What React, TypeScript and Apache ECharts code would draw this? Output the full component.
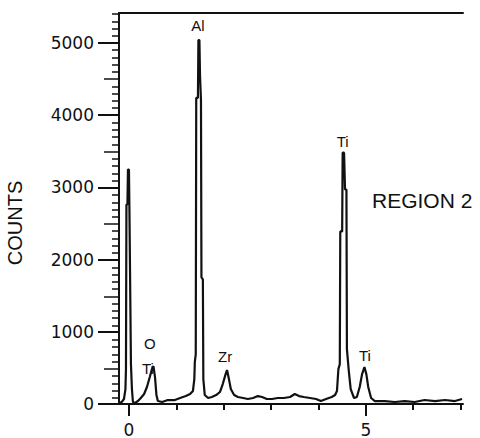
import React, { useEffect, useRef } from "react";
import * as echarts from "echarts";

// Energy (keV) and counts
const energy = [
  -0.21, -0.15, -0.105, -0.074, -0.063, -0.053, -0.032, -0.021, 0.0, 0.01, 0.042, 0.063, 0.084, 0.127,
  0.19, 0.25, 0.32, 0.38, 0.44, 0.485, 0.517, 0.55, 0.58, 0.61, 0.7, 0.82, 0.97, 1.08, 1.2, 1.29,
  1.35, 1.38, 1.39, 1.41, 1.42, 1.456, 1.466, 1.487, 1.5, 1.52, 1.53, 1.56, 1.57, 1.6, 1.67, 1.75,
  1.84, 1.92, 1.98, 2.04, 2.07, 2.11, 2.15, 2.22, 2.3, 2.41, 2.51, 2.62, 2.72, 2.81, 2.91, 3.02,
  3.14, 3.27, 3.4, 3.5, 3.59, 3.69, 3.82, 3.95, 4.05, 4.16, 4.28, 4.35, 4.39, 4.42, 4.45, 4.46,
  4.5, 4.51, 4.54, 4.56, 4.59, 4.6, 4.64, 4.68, 4.75, 4.81, 4.87, 4.92, 4.97, 5.01, 5.05, 5.11,
  5.19, 5.4, 5.61, 5.82, 6.03, 6.24, 6.46, 6.67, 6.88, 7.03,
];
const counts = [
  14, 28, 69, 207, 483, 2762, 2762, 3246, 3246, 2693, 552, 207, 28, 14,
  41, 83, 138, 235, 373, 483, 525, 373, 124, 41, 28, 55, 55, 83, 110, 138,
  180, 345, 580, 690, 4240, 4240, 5040, 5040, 4545, 4210, 1754, 1726, 345, 124, 83, 97,
  124, 166, 276, 414, 470, 345, 207, 124, 97, 83, 69, 83, 110, 97, 69, 69,
  83, 83, 97, 138, 110, 97, 83, 69, 41, 69, 97, 124, 180, 483, 552, 2390,
  2390, 3480, 3480, 2970, 2970, 760, 456, 207, 83, 97, 235, 414, 511, 414, 235, 83,
  41, 41, 28, 41, 28, 55, 41, 55, 41, 69,
];

// Peak labels: name, energy, counts (label bottom)
const peakNames = ["Al", "Ti", "O", "Ti", "Zr", "Ti"];
const peakEnergy = [1.456, 4.51, 0.443, 0.4, 2.03, 4.98];
const peakCounts = [5130, 3525, 725, 380, 545, 560];

const yMajorTicks = [0, 1000, 2000, 3000, 4000, 5000];
const yMidTicks = [500, 1500, 2500, 3500, 4500];
const yMinorTicks = Array.from({ length: 55 }, (_, i) => i * 100).filter((v) => v % 500 !== 0);
const xMajorTicks = [0, 5];
const xMinorTicks = [1, 2, 3, 4, 6, 7];

export default function App() {
  const ref = useRef<HTMLDivElement>(null);
  useEffect(() => {
    if (!ref.current) return;
    const chart = echarts.init(ref.current, null, { renderer: "svg" });
    const ink = "#111111";
    const tickFont = { fontSize: 17, color: ink, fontFamily: "DejaVu Sans" };
    const gridRect = { left: 119, right: 17, top: 13, bottom: 33 };
    const yBase = { type: "value" as const, min: 0, max: 5414, position: "left" as const, splitLine: { show: false } };
    const xBase = { type: "value" as const, min: -0.21, max: 7.05, splitLine: { show: false } };
    const hidden = { show: false };
    chart.setOption({
      animation: false,
      backgroundColor: "#ffffff",
      grid: [gridRect, gridRect, gridRect],
      xAxis: [
        {
          ...xBase,
          gridIndex: 0,
          position: "bottom",
          axisLine: { show: true, onZero: false, lineStyle: { color: ink, width: 2 } },
          axisTick: { show: true, customValues: xMajorTicks, length: 12, lineStyle: { color: ink, width: 2 } },
          axisLabel: { show: true, customValues: xMajorTicks, margin: 17, formatter: (v: number) => String(v), ...tickFont },
        },
        {
          ...xBase,
          gridIndex: 1,
          position: "bottom",
          axisLine: { show: false, onZero: false },
          axisTick: { show: true, customValues: xMinorTicks, length: 5, lineStyle: { color: ink, width: 2 } },
          axisLabel: hidden,
        },
        {
          ...xBase,
          gridIndex: 2,
          position: "top",
          axisLine: { show: true, onZero: false, lineStyle: { color: ink, width: 2 } },
          axisTick: hidden,
          axisLabel: hidden,
        },
      ],
      yAxis: [
        {
          ...yBase,
          gridIndex: 0,
          axisLine: { show: true, onZero: false, lineStyle: { color: ink, width: 2 } },
          axisTick: { show: true, customValues: yMajorTicks, length: 21, lineStyle: { color: ink, width: 2 } },
          axisLabel: { show: true, customValues: yMajorTicks, margin: 25, formatter: (v: number) => String(v), ...tickFont },
        },
        {
          ...yBase,
          gridIndex: 1,
          axisLine: { show: false, onZero: false },
          axisTick: { show: true, customValues: yMidTicks, length: 15, lineStyle: { color: ink, width: 1.5 } },
          axisLabel: hidden,
        },
        {
          ...yBase,
          gridIndex: 2,
          axisLine: { show: false, onZero: false },
          axisTick: { show: true, customValues: yMinorTicks, length: 7, lineStyle: { color: ink, width: 1.5 } },
          axisLabel: hidden,
        },
      ],
      series: [
        {
          type: "line",
          xAxisIndex: 0,
          yAxisIndex: 0,
          data: energy.map((e, i) => [e, counts[i]]),
          symbol: "none",
          lineStyle: { color: ink, width: 2.2 },
        },
        {
          type: "scatter",
          xAxisIndex: 0,
          yAxisIndex: 0,
          symbolSize: 1,
          itemStyle: { color: "rgba(255,255,255,0)" },
          data: peakNames.map((n, i) => ({ name: n, value: [peakEnergy[i], peakCounts[i]] })),
          label: {
            show: true,
            position: "top",
            distance: 0,
            formatter: "{b}",
            fontSize: 15,
            color: ink,
            opacity: 1,
            fontFamily: "Liberation Sans",
          },
        },
      ],
      graphic: [
        {
          type: "text",
          x: 15,
          y: 223,
          rotation: Math.PI / 2,
          style: {
            text: "COUNTS",
            fontSize: 20,
            fontFamily: "Liberation Sans",
            fill: ink,
            textAlign: "center",
            textVerticalAlign: "middle",
          },
        },
        {
          type: "text",
          x: 372,
          y: 200,
          style: {
            text: "REGION 2",
            fontSize: 21,
            fontFamily: "Liberation Sans",
            fill: ink,
            textAlign: "left",
            textVerticalAlign: "middle",
          },
        },
      ],
    });
    return () => chart.dispose();
  }, []);
  return <div ref={ref} style={{ position: "fixed", left: 0, top: 0, width: 480, height: 438 }} />;
}
